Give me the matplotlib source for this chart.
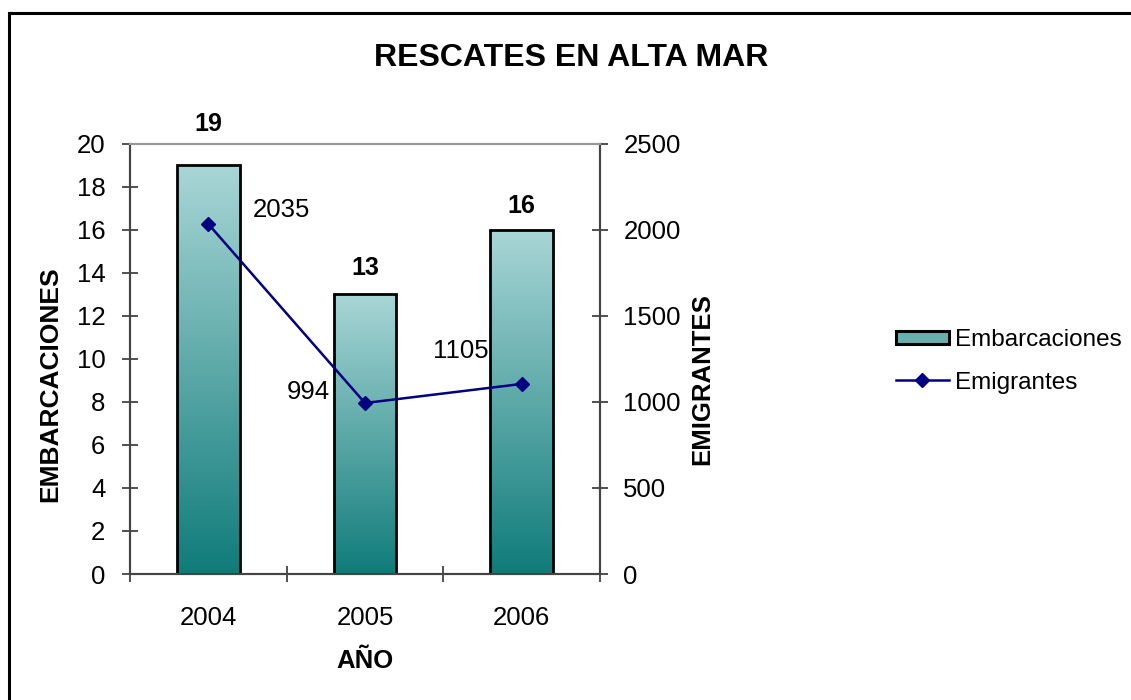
import numpy as np
import matplotlib
matplotlib.use("Agg")
import matplotlib.pyplot as plt
from matplotlib.colors import LinearSegmentedColormap
from matplotlib.patches import Rectangle
from matplotlib.lines import Line2D
from matplotlib.legend_handler import HandlerPatch

# data
years = ["2004", "2005", "2006"]
embarcaciones = [19, 13, 16]
emigrantes = [2035, 994, 1105]

plt.rcParams['font.family'] = ['Liberation Sans', 'DejaVu Sans']

light = '#a9d6d6'
dark = '#0f7c7a'
grad = LinearSegmentedColormap.from_list('teal', [dark, light])
FS = 18.5

fig = plt.figure(figsize=(11.31, 7), dpi=100)
ax = fig.add_axes([0.1149, 0.18, 0.4156, 0.6143])
ax2 = ax.twinx()

x = np.arange(len(years))
bars = ax.bar(x, embarcaciones, width=0.4, facecolor='none', edgecolor='black',
              linewidth=2, zorder=3, label='Embarcaciones')

# gradient fill per bar, labels above
g = np.linspace(0, 1, 256).reshape(-1, 1)
bar_offsets = [30, 19, 17]
for b, off in zip(bars, bar_offsets):
    x0, y0 = b.get_x(), b.get_y()
    w, h = b.get_width(), b.get_height()
    im = ax.imshow(g, cmap=grad, origin='lower', aspect='auto',
                   extent=[x0, x0 + w, y0, y0 + h], zorder=2)
    im.set_clip_path(b)
    ax.annotate(str(int(h)), (x0 + w / 2, h), xytext=(0, off), textcoords='offset points',
                ha='center', va='center', fontsize=18, fontweight='bold')

line, = ax2.plot(x, emigrantes, color='#000080', marker='D', markersize=7,
                 linewidth=1.8, label='Emigrantes', zorder=4)
offsets = [(53, 10), (-41, 8), (-44, 24)]
for xi, v, off in zip(x, emigrantes, offsets):
    ax2.annotate(str(v), (xi, v), xytext=off, textcoords='offset points',
                 ha='center', va='center', fontsize=FS)

ax.set_xlim(-0.5, 2.5)
ax.set_ylim(0, 20)
ax2.set_ylim(0, 2500)
ax.set_yticks(range(0, 21, 2))
ax2.set_yticks(range(0, 2501, 500))
ax.set_xticks(x)
ax.set_xticklabels(years)
ax.set_xticks([-0.5, 0.5, 1.5, 2.5], minor=True)
ax.tick_params(axis='x', which='major', length=0, pad=23, labelsize=FS)
ax.tick_params(axis='x', which='minor', direction='inout', length=11.5, width=1.2, color='#333333')
ax.tick_params(axis='y', direction='inout', length=11.5, width=1.2, color='#333333', labelsize=FS, pad=12)
ax2.tick_params(axis='y', direction='inout', length=11.5, width=1.2, color='#333333', labelsize=FS, pad=11)

for a in (ax, ax2):
    for s in ('left', 'right', 'bottom'):
        a.spines[s].set_color('#444444')
        a.spines[s].set_linewidth(1.5)
    a.spines['top'].set_color('#999999')
    a.spines['top'].set_linewidth(1.5)

ax.set_xlabel('AÑO', fontsize=18.5, fontweight='bold', labelpad=14)
ax.set_ylabel('EMBARCACIONES', fontsize=19, fontweight='bold')
ax2.set_ylabel('EMIGRANTES', fontsize=18.5, fontweight='bold')
ax.yaxis.set_label_coords(-0.1447, 0.442)
ax2.yaxis.set_label_coords(1.191, 0.453)

fig.text(0.505, 0.917, 'RESCATES EN ALTA MAR', ha='center', va='center',
         fontsize=23, fontweight='bold')


class GradHandler(HandlerPatch):
    def create_artists(self, legend, orig_handle, xdescent, ydescent, width, height, fontsize, trans):
        r = Rectangle((-xdescent, -ydescent + height * 0.1), width, height * 0.8,
                      facecolor='#6aafae', edgecolor='black', linewidth=2.2, transform=trans)
        return [r]


handles = [bars.patches[0], line]
fig.legend(handles, ['Embarcaciones', 'Emigrantes'], loc='center left',
           bbox_to_anchor=(0.7922, 0.484), frameon=False, fontsize=17.5,
           handlelength=2.18, handletextpad=0.25, labelspacing=0.85,
           borderpad=0, borderaxespad=0,
           handler_map={bars.patches[0]: GradHandler()})

# chart area border (top and left edges visible in the picture)
fig.add_artist(Line2D([9 / 1131, 9 / 1131], [0, 1 - 13 / 700], transform=fig.transFigure,
                      color='black', linewidth=2.2))
fig.add_artist(Line2D([9 / 1131, 1], [1 - 13 / 700, 1 - 13 / 700], transform=fig.transFigure,
                      color='black', linewidth=2.2))

fig.savefig('out.png', dpi=100)
